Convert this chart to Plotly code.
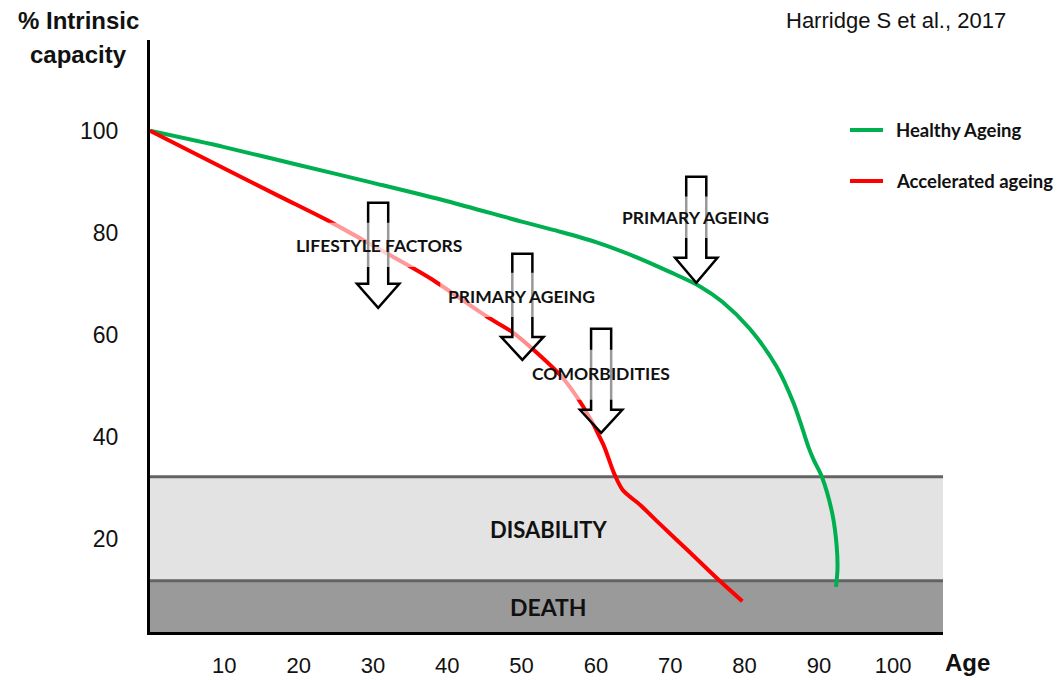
import plotly.graph_objects as go

# ---------------- data ----------------
age_healthy = [0, 10, 20, 30, 40, 50, 55, 60, 65, 70, 74, 77, 80.7, 84.3, 86.6, 87.7, 88.6, 89.3, 90.4, 91.8, 92.4, 92.5, 92.3]
cap_healthy = [100, 96.8, 93.3, 89.8, 86.2, 82.2, 80.3, 78.2, 75.5, 72.3, 69.5, 66.5, 61.2, 53.8, 46.6, 42.0, 38.0, 35.5, 32.2, 25.0, 18.5, 14.0, 10.6]

age_accel = [0, 10, 17.5, 24.2, 30, 37.7, 45.3, 48.7, 51.6, 55.4, 58.3, 61.0, 62.4, 63.6, 66.0, 68.7, 72.7, 76.5, 79.7]
cap_accel = [100, 92.6, 87.1, 82.2, 77.5, 71.1, 63.6, 60.6, 57.1, 51.8, 45.9, 38.5, 33.0, 29.6, 26.6, 22.8, 17.3, 12.0, 7.8]

series_names = ["Healthy Ageing", "Accelerated ageing"]
series_colors = ["#00B050", "#FF0000"]

x_ticks = [10, 20, 30, 40, 50, 60, 70, 80, 90, 100]
y_ticks = [20, 40, 60, 80, 100]

# zones
zone_labels = ["DEATH", "DISABILITY"]
zone_bottom = [1.76, 11.8]
zone_top = [11.8, 32.2]
zone_fill = ["#9a9a9a", "#e3e3e3"]
zone_label_pos = [(53.6, 6.6), (53.6, 21.8)]

# arrows: x centre, top, head start, tip
arrow_labels = ["LIFESTYLE FACTORS", "PRIMARY AGEING", "COMORBIDITIES", "PRIMARY AGEING"]
arrow_x = [30.7, 50.1, 60.7, 73.5]
arrow_top = [85.9, 75.9, 61.2, 91.0]
arrow_head = [70.0, 59.6, 45.3, 75.1]
arrow_tip = [65.3, 55.1, 40.8, 70.2]
label_pos = [(30.85, 77.6), (49.96, 67.6), (60.7, 52.5), (73.36, 83.1)]
# translucent label boxes (x0, x1, y0, y1)
label_box = [(18.9, 42.7, 73.3, 82.0), (39.05, 61.0, 63.5, 72.2), (55.2, 70.8, 47.3, 57.1), (62.2, 84.5, 79.0, 87.1)]

X_RANGE = [0, 106.7]
Y_RANGE = [1.76, 117.8]

fig = go.Figure()

shapes = []
for b, t, f in zip(zone_bottom, zone_top, zone_fill):
    shapes.append(dict(type="rect", xref="x", yref="y", x0=X_RANGE[0], x1=X_RANGE[1], y0=b, y1=t,
                       fillcolor=f, line=dict(width=0), layer="below"))
for yv in zone_top:
    shapes.append(dict(type="line", xref="x", yref="y", x0=X_RANGE[0], x1=X_RANGE[1], y0=yv, y1=yv,
                       line=dict(color="#636363", width=3), layer="below"))

fig.add_trace(go.Scatter(x=age_healthy, y=cap_healthy, mode="lines", name=series_names[0],
                         line=dict(color=series_colors[0], width=4, shape="spline", smoothing=0.8),
                         showlegend=False, hoverinfo="skip"))
fig.add_trace(go.Scatter(x=age_accel, y=cap_accel, mode="lines", name=series_names[1],
                         line=dict(color=series_colors[1], width=4, shape="spline", smoothing=0.8),
                         showlegend=False, hoverinfo="skip"))

sw = 1.35   # shaft half width (age units)
hw = 2.85   # head half width
for xc, top, head, tip in zip(arrow_x, arrow_top, arrow_head, arrow_tip):
    path = (f"M {xc-sw},{top} L {xc+sw},{top} L {xc+sw},{head} L {xc+hw},{head} "
            f"L {xc},{tip} L {xc-hw},{head} L {xc-sw},{head} Z")
    shapes.append(dict(type="path", xref="x", yref="y", path=path,
                       fillcolor="rgba(255,255,255,0.55)", line=dict(color="black", width=2.5), layer="above"))

for x0, x1, y0, y1 in label_box:
    shapes.append(dict(type="rect", xref="x", yref="y", x0=x0, x1=x1, y0=y0, y1=y1,
                       fillcolor="rgba(255,255,255,0.6)", line=dict(width=0), layer="above"))

PW = 793.0
PH = 592.0
def px_x(p):
    return (p - 150) / PW
def px_y(p):
    return (632 - p) / PH

legend_y_px = [130, 181]
for name, col, ly in zip(series_names, series_colors, legend_y_px):
    shapes.append(dict(type="line", xref="paper", yref="paper", x0=px_x(850), x1=px_x(883),
                       y0=px_y(ly), y1=px_y(ly), line=dict(color=col, width=4)))

annotations = []
calibri = dict(family="Lato, Open Sans, sans-serif", size=17.5, color="#111111", weight=700)
for lab, (lx, ly) in zip(arrow_labels, label_pos):
    annotations.append(dict(x=lx, y=ly, xref="x", yref="y", text=lab, showarrow=False, font=calibri))
for lab, (lx, ly), sz in zip(zone_labels, zone_label_pos, [23, 22]):
    annotations.append(dict(x=lx, y=ly, xref="x", yref="y", text=lab, showarrow=False,
                            font=dict(family="Lato, Open Sans, sans-serif", size=sz, color="#111111", weight=700)))
for name, ly in zip(series_names, legend_y_px):
    annotations.append(dict(x=px_x(894), y=px_y(ly), xref="paper", yref="paper", text=name,
                            showarrow=False, xanchor="left", yanchor="middle",
                            font=dict(family="Lato, Open Sans, sans-serif", size=18.5, color="#111111", weight=700)))

annotations.append(dict(x=px_x(896), y=px_y(20), xref="paper", yref="paper", text="Harridge S et al., 2017",
                        showarrow=False, xanchor="center", yanchor="middle",
                        font=dict(family="Liberation Sans, Arial, sans-serif", size=22, color="#111111")))
for txt, yy in zip(["% Intrinsic", "capacity"], [20, 55]):
    annotations.append(dict(x=px_x(78), y=px_y(yy), xref="paper", yref="paper", text=txt,
                            showarrow=False, xanchor="center", yanchor="middle",
                            font=dict(family="Liberation Sans, Arial, sans-serif", size=24, color="#111111", weight=700)))
annotations.append(dict(x=px_x(967), y=px_y(662), xref="paper", yref="paper", text="Age",
                        showarrow=False, xanchor="center", yanchor="middle",
                        font=dict(family="Liberation Sans Narrow, Liberation Sans, Arial, sans-serif", size=24,
                                  color="#111111", weight=700)))

fig.update_layout(
    width=1064, height=680,
    margin=dict(l=142, r=129, t=32, b=56, autoexpand=False),
    paper_bgcolor="white", plot_bgcolor="white",
    shapes=shapes, annotations=annotations,
    showlegend=False,
    xaxis=dict(range=X_RANGE, tickvals=x_ticks, showgrid=False, zeroline=False,
               showline=True, linecolor="black", linewidth=3, ticks="",
               ticklabelstandoff=12, automargin=False,
               tickfont=dict(family="Liberation Sans Narrow, Liberation Sans, Arial, sans-serif", size=22, color="#111111")),
    yaxis=dict(range=Y_RANGE, tickvals=y_ticks, showgrid=False, zeroline=False,
               showline=True, linecolor="black", linewidth=3, ticks="",
               ticklabelstandoff=24, automargin=False,
               tickfont=dict(family="Liberation Sans, Arial, sans-serif", size=23, color="#111111")),
)

fig.write_html("out.html")
